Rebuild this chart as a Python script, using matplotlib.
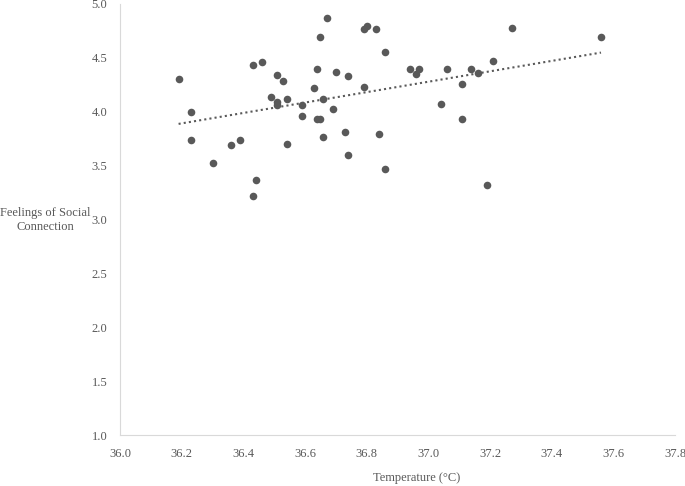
import numpy as np
import matplotlib.pyplot as plt

plt.rcParams['font.family'] = ['Liberation Serif', 'DejaVu Serif']

# body temperature (°C) and feelings of social connection
temp = [36.19, 36.23, 36.23, 36.30, 36.36, 36.39, 36.43, 36.46, 36.44, 36.43,
        36.49, 36.51, 36.53, 36.51, 36.51, 36.54, 36.54, 36.59, 36.59, 36.63,
        36.64, 36.65, 36.67, 36.66, 36.64, 36.65, 36.66, 36.69, 36.70, 36.74,
        36.73, 36.74, 36.79, 36.80, 36.83, 36.86, 36.79, 36.84, 36.86, 36.94,
        36.97, 36.96, 37.04, 37.06, 37.11, 37.11, 37.14, 37.16, 37.21, 37.19,
        37.27, 37.56]
social = [4.30, 4.00, 3.74, 3.52, 3.69, 3.74, 4.43, 4.46, 3.37, 3.22,
          4.14, 4.34, 4.29, 4.09, 4.06, 4.12, 3.70, 4.06, 3.96, 4.22,
          4.40, 4.69, 4.87, 4.12, 3.93, 3.93, 3.77, 4.03, 4.37, 4.33,
          3.81, 3.60, 4.77, 4.80, 4.77, 4.55, 4.23, 3.79, 3.47, 4.40,
          4.40, 4.35, 4.07, 4.40, 4.26, 3.93, 4.40, 4.36, 4.47, 3.32,
          4.78, 4.69]

fig = plt.figure(figsize=(6.85, 4.86), dpi=100)
ax = fig.add_axes([120 / 685, 1 - 435 / 486, 555 / 685, 431 / 486])

grey = '#595959'
ax.scatter(temp, social, s=30, color=grey, zorder=3, linewidths=0)

# linear trendline
k, b = np.polyfit(temp, social, 1)
xs = np.array([min(temp), max(temp)])
ax.plot(xs, k * xs + b, linestyle=(0, (1, 1.5)), color=grey, lw=1.5)

ax.set_xlim(36.0, 37.8)
ax.set_ylim(1.0, 5.0)
ax.set_xticks(np.arange(36.0, 37.81, 0.2))
ax.set_yticks(np.arange(1.0, 5.01, 0.5))
ax.xaxis.set_major_formatter(plt.FormatStrFormatter('%.1f'))
ax.yaxis.set_major_formatter(plt.FormatStrFormatter('%.1f'))
ax.tick_params(length=0, labelsize=9, colors=grey, pad=9)

for s in ['top', 'right']:
    ax.spines[s].set_visible(False)
for s in ['left', 'bottom']:
    ax.spines[s].set_color('#d9d9d9')

fig.text(45 / 685, 1 - 220 / 486, 'Feelings of Social\nConnection', ha='center', va='center',
         fontsize=9, color=grey, linespacing=1.3)
fig.text(417 / 685, 1 - 478 / 486, 'Temperature (°C)', ha='center', va='center',
         fontsize=9, color=grey)

fig.savefig('out.png', dpi=100)
